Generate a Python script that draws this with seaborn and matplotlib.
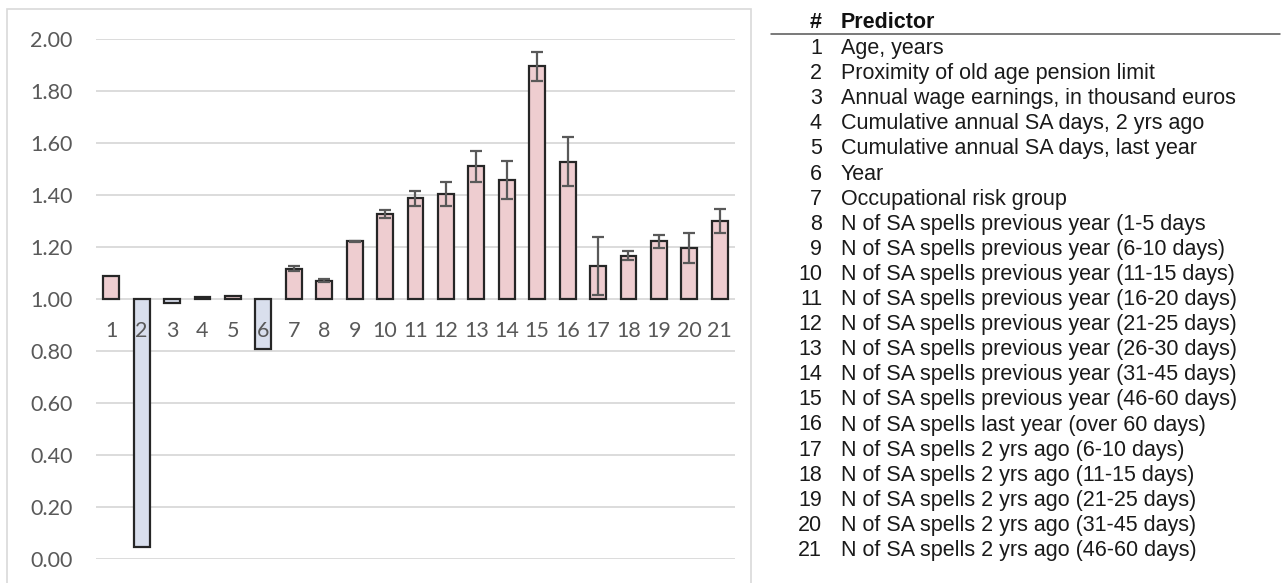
import numpy as np
import pandas as pd
import matplotlib
matplotlib.use("Agg")
import matplotlib.pyplot as plt
import seaborn as sns
from matplotlib.patches import Rectangle
from matplotlib.lines import Line2D

# Odds ratios with 95% CI half-widths for each predictor
predictor_ids = [str(i) for i in range(1, 22)]
odds_ratios = [1.088, 0.047, 0.986, 1.006, 1.012, 0.806, 1.117, 1.070, 1.222,
               1.326, 1.387, 1.403, 1.510, 1.458, 1.895, 1.528, 1.127, 1.167,
               1.222, 1.195, 1.300]
ci_halfwidth = [0.0, 0.0, 0.0, 0.0, 0.0, 0.0, 0.010, 0.006, 0.003,
                0.016, 0.030, 0.046, 0.060, 0.074, 0.056, 0.095, 0.110, 0.017,
                0.026, 0.058, 0.048]
predictor_names = [
    "Age, years",
    "Proximity of old age pension limit",
    "Annual wage earnings, in thousand euros",
    "Cumulative annual SA days, 2 yrs ago",
    "Cumulative annual SA days, last year",
    "Year",
    "Occupational risk group",
    "N of SA spells previous year (1-5 days",
    "N of SA spells previous year (6-10 days)",
    "N of SA spells previous year (11-15 days)",
    "N of SA spells previous year (16-20 days)",
    "N of SA spells previous year (21-25 days)",
    "N of SA spells previous year (26-30 days)",
    "N of SA spells previous year (31-45 days)",
    "N of SA spells previous year (46-60 days)",
    "N of SA spells last year (over 60 days)",
    "N of SA spells 2 yrs ago (6-10 days)",
    "N of SA spells 2 yrs ago (11-15 days)",
    "N of SA spells 2 yrs ago (21-25 days)",
    "N of SA spells 2 yrs ago (31-45 days)",
    "N of SA spells 2 yrs ago (46-60 days)",
]
y_ticks = [0.0, 0.2, 0.4, 0.6, 0.8, 1.0, 1.2, 1.4, 1.6, 1.8, 2.0]

sns.set_theme(style="white")
plt.rcParams["font.family"] = ["Lato", "DejaVu Sans"]

W, H = 1282, 583
fig = plt.figure(figsize=(W / 100, H / 100), dpi=100)

# Light frame around the chart area
fig.patches.append(Rectangle((7 / W, -0.05), (751 - 7) / W, 1.05 - 9 / H,
                             transform=fig.transFigure, fill=False,
                             edgecolor="#d9d9d9", linewidth=1.2, zorder=0))

ax = fig.add_axes([96 / W, 1 - 559 / H, (735 - 96) / W, (559 - 39) / H])
ax.patch.set_alpha(0)

baseline = 1.0
df = pd.DataFrame({
    "id": predictor_ids,
    "odds": odds_ratios,
    "ci": ci_halfwidth,
})
df["height"] = df["odds"] - baseline
df["direction"] = np.where(df["odds"] >= baseline, "up", "down")

sns.barplot(data=df, x="id", y="height", hue="direction", order=predictor_ids,
            palette={"up": "#F3C8CB", "down": "#D6DEF0"}, dodge=False,
            bottom=baseline, width=0.52, edgecolor="#262626", linewidth=1.6,
            errorbar=None, legend=False, ax=ax, zorder=2)

has_ci = df["ci"] > 0
xpos = np.arange(len(predictor_ids))
ax.errorbar(xpos[has_ci], df["odds"][has_ci], yerr=df["ci"][has_ci], fmt="none",
            ecolor="#595959", elinewidth=1.6, capsize=4.3, capthick=1.6, zorder=3)

ax.set_xlim(-0.5, len(predictor_ids) - 0.5)
ax.set_ylim(0, 2.0)
ax.set_yticks(y_ticks)
ax.set_yticklabels([f"{v:.2f}" for v in y_ticks])
ax.yaxis.grid(True, color="#d9d9d9", linewidth=1.3)
ax.set_axisbelow(True)
# category labels sit on the 1.00 line, drawn over the bars
ax.xaxis.set_zorder(5)
for s in ax.spines.values():
    s.set_visible(False)
ax.spines["bottom"].set_position(("data", baseline))
ax.tick_params(axis="y", length=0, pad=17, labelsize=15.5, labelcolor="#595959")
ax.tick_params(axis="x", length=0, pad=16, labelsize=15.5, labelcolor="#595959")
ax.set_xlabel("")
ax.set_ylabel("")

# Predictor key table
tfont = ["Liberation Sans", "DejaVu Sans"]
fs = 15.5
num_x = 822 / W
txt_x = 841 / W
fig.text(num_x, 1 - 22 / H, "#", ha="right", va="center", fontsize=fs,
         fontweight="bold", family=tfont, color="#111111")
fig.text(txt_x, 1 - 22 / H, "Predictor", ha="left", va="center", fontsize=fs,
         fontweight="bold", family=tfont, color="#111111")
fig.add_artist(Line2D([771 / W, 1280 / W], [1 - 34 / H, 1 - 34 / H],
                      transform=fig.transFigure, color="#555555", linewidth=1.1))
for i, (pid, name) in enumerate(zip(predictor_ids, predictor_names)):
    yy = 1 - (48.5 + i * 25.1) / H
    fig.text(num_x, yy, pid, ha="right", va="center", fontsize=fs,
             family=tfont, color="#1a1a1a")
    fig.text(txt_x, yy, name, ha="left", va="center", fontsize=fs,
             family=tfont, color="#1a1a1a")

fig.savefig("out.png", dpi=100)
